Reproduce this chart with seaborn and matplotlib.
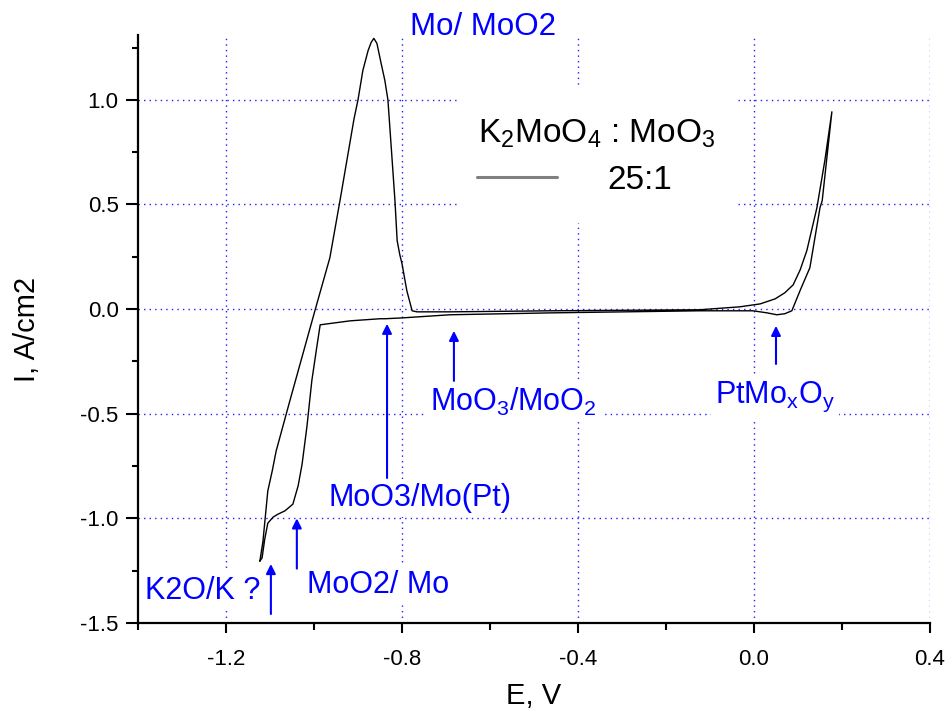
import matplotlib
matplotlib.use("Agg")
import matplotlib.pyplot as plt
import seaborn as sns
import pandas as pd
from matplotlib.patches import Rectangle
from matplotlib.ticker import MultipleLocator, FormatStrFormatter

# ---- data ----
E_anodic = [-1.123, -1.116, -1.111, -1.105, -1.095, -1.086, -1.055, -0.998, -0.964, -0.941,
            -0.909, -0.900, -0.889, -0.877, -0.870, -0.864, -0.857, -0.848, -0.839, -0.832,
            -0.824, -0.816, -0.811, -0.805, -0.800, -0.789, -0.777, -0.766, -0.691, -0.464,
            -0.123, -0.032, 0.014, 0.048, 0.070, 0.089, 0.105, 0.120, 0.143, 0.161, 0.177]
I_anodic = [-1.204, -1.109, -1.000, -0.869, -0.774, -0.678, -0.439, -0.008, 0.245, 0.518,
            0.910, 1.000, 1.140, 1.236, 1.275, 1.294, 1.270, 1.180, 1.093, 1.000,
            0.760, 0.518, 0.327, 0.260, 0.217, 0.088, -0.008, -0.013, -0.013, -0.008,
            -0.003, 0.011, 0.025, 0.049, 0.078, 0.116, 0.188, 0.279, 0.485, 0.710, 0.943]
E_cathodic = [0.155, 0.150, 0.127, 0.105, 0.086, 0.070, 0.052, 0.030, -0.002, -0.123, -0.464,
              -0.691, -0.800, -0.839, -0.850, -0.918, -0.986, -0.995, -1.005, -1.016, -1.027,
              -1.036, -1.048, -1.066, -1.082, -1.093, -1.105, -1.112, -1.118, -1.123]
I_cathodic = [0.518, 0.485, 0.198, 0.090, -0.008, -0.022, -0.027, -0.018, -0.008, -0.008, -0.018,
              -0.027, -0.042, -0.046, -0.046, -0.056, -0.075, -0.200, -0.343, -0.560, -0.740,
              -0.844, -0.932, -0.964, -0.980, -0.994, -1.023, -1.100, -1.189, -1.204]

x_ticks = [-1.2, -0.8, -0.4, 0.0, 0.4]
y_ticks = [-1.5, -1.0, -0.5, 0.0, 0.5, 1.0]

df = pd.DataFrame({"E": E_anodic + E_cathodic, "I": I_anodic + I_cathodic})

sns.set_style("ticks")
plt.rcParams["font.family"] = ["Liberation Sans", "DejaVu Sans"]
plt.rcParams["mathtext.fontset"] = "custom"
plt.rcParams["mathtext.rm"] = "Liberation Sans"
plt.rcParams["mathtext.it"] = "Liberation Sans"
plt.rcParams["axes.unicode_minus"] = False
plt.rcParams["text.color"] = "black"
plt.rcParams["axes.labelcolor"] = "black"
plt.rcParams["xtick.color"] = "black"
plt.rcParams["ytick.color"] = "black"

fig = plt.figure(figsize=(9.46, 7.15), dpi=100)
ax = fig.add_axes([138/946, 1-623/715, (930-138)/946, (623-35)/715])

sns.lineplot(data=df, x="E", y="I", sort=False, estimator=None, color="black",
             linewidth=1.0, ax=ax, zorder=3)

ax.set_xlim(-1.4, 0.4)
ax.set_ylim(-1.5, 1.31)
ax.xaxis.set_major_locator(MultipleLocator(0.4))
ax.xaxis.set_minor_locator(MultipleLocator(0.2))
ax.yaxis.set_major_locator(MultipleLocator(0.5))
ax.yaxis.set_minor_locator(MultipleLocator(0.25))
ax.xaxis.set_major_formatter(FormatStrFormatter("%.1f"))
ax.yaxis.set_major_formatter(FormatStrFormatter("%.1f"))
ax.set_xticks(x_ticks)
ax.set_yticks(y_ticks)

for s in ["top", "right"]:
    ax.spines[s].set_visible(False)
for s in ["left", "bottom"]:
    ax.spines[s].set_linewidth(1.6)
    ax.spines[s].set_color("black")

ax.tick_params(axis="y", which="major", length=9, width=1.5, labelsize=16, pad=5, direction="out")
ax.tick_params(axis="y", which="minor", length=4, width=1.5, direction="out")
ax.tick_params(axis="x", which="major", length=7, width=1.5, labelsize=16, pad=12, direction="out")
ax.tick_params(axis="x", which="minor", length=5, width=1.5, direction="out")

ax.grid(True, which="major", color="#2020ff", linestyle=(0, (1, 3)), linewidth=1.0)
ax.set_axisbelow(True)

ax.set_xlabel("E, V", fontsize=21, labelpad=8)
ax.set_ylabel("I, A/cm2", fontsize=21, labelpad=28)

# legend-like box
ax.add_patch(Rectangle((-0.668, 0.413), 0.625, 0.655, facecolor="white", edgecolor="none", zorder=1.5))
ax.text(-0.627, 0.796, r"K$_\mathregular{2}$MoO$_\mathregular{4}$ : MoO$_\mathregular{3}$",
        fontsize=24, va="baseline", ha="left", zorder=4, color="black")
ax.plot([-0.63, -0.448], [0.633, 0.633], color="#808080", linewidth=2.2, zorder=4)
ax.text(-0.334, 0.576, "25:1", fontsize=24, va="baseline", ha="left", zorder=4, color="black")

blue = "#0000ff"
bb = dict(facecolor="white", edgecolor="none", pad=3)
ax.text(-0.782, 1.308, "Mo/ MoO2", color=blue, fontsize=22.5, va="baseline", ha="left",
        clip_on=False, bbox=bb, zorder=4)
ax.text(-0.968, -0.941, "MoO3/Mo(Pt)", color=blue, fontsize=22, va="baseline", ha="left",
        bbox=bb, zorder=4)
ax.text(-0.736, -0.487, r"MoO$_\mathregular{3}$/MoO$_\mathregular{2}$", color=blue, fontsize=22,
        va="baseline", ha="left", bbox=bb, zorder=4)
ax.text(-0.089, -0.449, r"PtMo$_\mathregular{x}$O$_\mathregular{y}$", color=blue, fontsize=22,
        va="baseline", ha="left", bbox=bb, zorder=4)
ax.text(-1.384, -1.386, "K2O/K ?", color=blue, fontsize=22, va="baseline", ha="left",
        bbox=bb, zorder=4)
ax.text(-1.016, -1.357, "MoO2/ Mo", color=blue, fontsize=22, va="baseline", ha="left",
        bbox=bb, zorder=4)

arrows = [(-0.834, -0.807, -0.07), (-0.682, -0.343, -0.104), (0.05, -0.262, -0.08),
          (-1.098, -1.457, -1.218), (-1.039, -1.24, -1.0)]
for x, y0, y1 in arrows:
    ax.annotate("", xy=(x, y1), xytext=(x, y0),
                arrowprops=dict(arrowstyle="-|>", color=blue, lw=1.5, mutation_scale=14,
                                shrinkA=0, shrinkB=0), zorder=5, annotation_clip=False)

fig.savefig("out.png", dpi=100)
